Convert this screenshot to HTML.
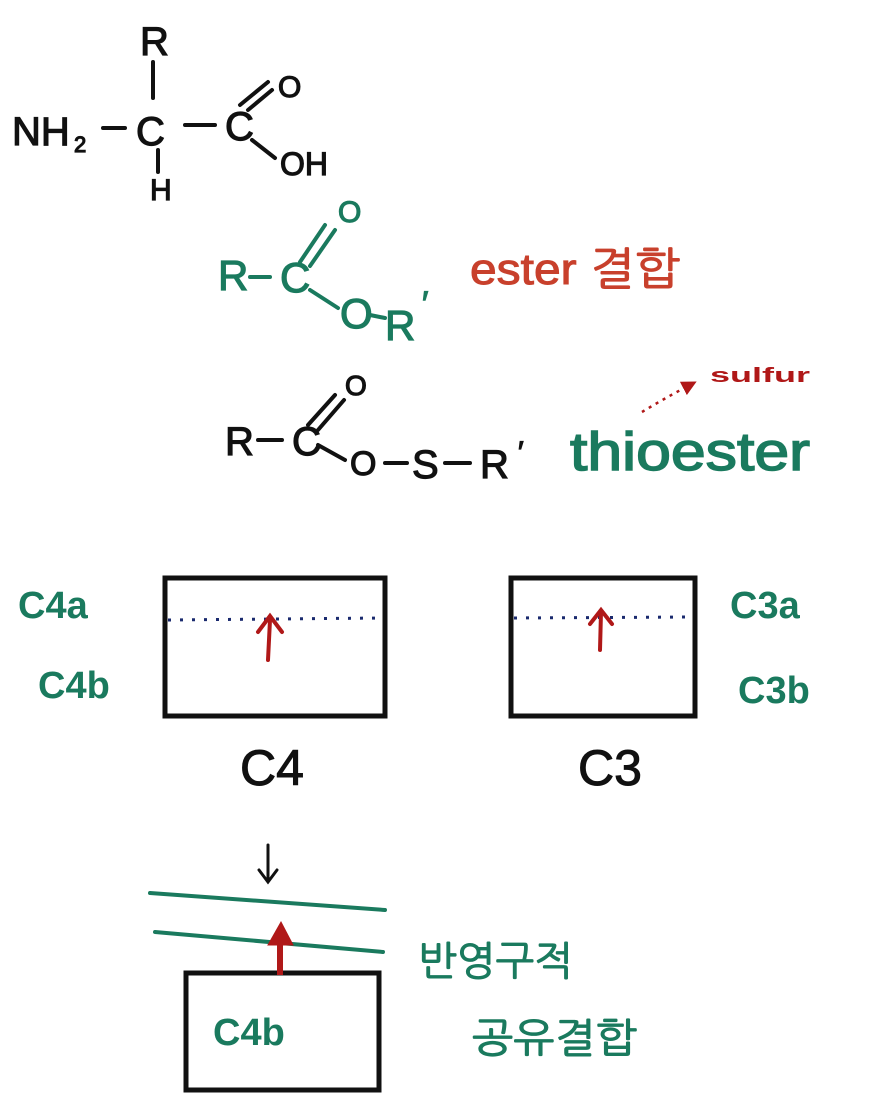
<!DOCTYPE html>
<html><head><meta charset="utf-8"><style>
html,body{margin:0;padding:0;background:#fff;}
svg{display:block}
text{font-family:"Liberation Sans","NanumGothic","Noto Sans CJK KR",sans-serif;}
</style></head><body>
<svg width="884" height="1103" viewBox="0 0 884 1103" xmlns="http://www.w3.org/2000/svg">
<defs>
<marker id="ar" markerWidth="6" markerHeight="6" refX="3" refY="3" orient="auto"><path d="M0,0 L6,3 L0,6 z" fill="#b01818"/></marker>
</defs>
<g fill="#111" stroke="#111" stroke-width="1.2" font-size="40">
<text x="140" y="55">R</text>
<text x="12" y="145">NH</text>
<text x="74" y="152" font-size="22">2</text>
<text x="136" y="145">C</text>
<text x="150" y="200" font-size="30">H</text>
<text x="225" y="140">C</text>
<text x="278" y="97" font-size="30">O</text>
<text x="280" y="175" font-size="32">OH</text>
</g>
<g stroke="#111" stroke-width="4" stroke-linecap="round" fill="none">
<line x1="153" y1="62" x2="153" y2="98"/>
<line x1="103" y1="128" x2="125" y2="128"/>
<line x1="185" y1="125" x2="215" y2="125"/>
<line x1="158" y1="150" x2="158" y2="172"/>
<line x1="240" y1="105" x2="268" y2="82"/>
<line x1="248" y1="110" x2="272" y2="90"/>
<line x1="252" y1="140" x2="275" y2="158"/>
</g>
<!-- ester -->
<g fill="#1a7a5e" stroke="#1a7a5e" stroke-width="1.2" font-size="42">
<text x="218" y="290">R</text>
<text x="280" y="292">C</text>
<text x="338" y="222" font-size="30">O</text>
<text x="340" y="328">O</text>
<text x="385" y="340">R</text>
<text x="422" y="315" font-size="34">′</text>
</g>
<g stroke="#1a7a5e" stroke-width="4" stroke-linecap="round">
<line x1="250" y1="277" x2="270" y2="277"/>
<line x1="300" y1="262" x2="325" y2="225"/>
<line x1="310" y1="266" x2="335" y2="230"/>
<line x1="310" y1="290" x2="338" y2="308"/>
<line x1="370" y1="315" x2="385" y2="318"/>
</g>
<text x="470" y="284" fill="#c8402c" stroke="#c8402c" stroke-width="1" font-size="44" textLength="210" lengthAdjust="spacingAndGlyphs">ester 결합</text>
<!-- thioester -->
<g fill="#111" stroke="#111" stroke-width="1.2" font-size="40">
<text x="225" y="455">R</text>
<text x="292" y="455">C</text>
<text x="345" y="395" font-size="28">O</text>
<text x="350" y="475" font-size="34">O</text>
<text x="412" y="478">S</text>
<text x="480" y="478">R</text>
<text x="518" y="462" font-size="30">′</text>
</g>
<g stroke="#111" stroke-width="4" stroke-linecap="round">
<line x1="258" y1="440" x2="282" y2="440"/>
<line x1="308" y1="425" x2="335" y2="395"/>
<line x1="318" y1="430" x2="344" y2="400"/>
<line x1="318" y1="445" x2="345" y2="460"/>
<line x1="385" y1="463" x2="407" y2="463"/>
<line x1="445" y1="463" x2="470" y2="463"/>
</g>
<text x="570" y="470" fill="#1a7a5e" stroke="#1a7a5e" stroke-width="1.5" font-size="54" textLength="240" lengthAdjust="spacingAndGlyphs">thioester</text>
<text x="710" y="382" fill="#b01818" font-size="20" font-weight="bold" textLength="100" lengthAdjust="spacingAndGlyphs">sulfur</text>
<path d="M642,412 Q665,398 690,385" stroke="#b01818" stroke-width="2.5" stroke-dasharray="3,5" fill="none" marker-end="url(#ar)"/>
<!-- boxes -->
<g stroke="#111" stroke-width="5" fill="none">
<rect x="165" y="578" width="220" height="138"/>
<rect x="511" y="578" width="184" height="138"/>
<rect x="186" y="973" width="193" height="117"/>
</g>
<line x1="168" y1="620" x2="383" y2="618" stroke="#1a2a6e" stroke-width="3" stroke-dasharray="3,9"/>
<line x1="514" y1="618" x2="693" y2="617" stroke="#1a2a6e" stroke-width="3" stroke-dasharray="3,9"/>
<g stroke="#b01818" stroke-width="4" stroke-linecap="round" fill="none">
<line x1="268" y1="660" x2="270" y2="620"/><path d="M258,632 L270,616 L282,632"/>
<line x1="600" y1="650" x2="601" y2="612"/><path d="M590,624 L601,610 L612,624"/>
</g>
<g fill="#1a7a5e" font-size="38" font-weight="bold">
<text x="18" y="618">C4a</text>
<text x="38" y="698">C4b</text>
<text x="730" y="618">C3a</text>
<text x="738" y="703">C3b</text>
<text x="213" y="1045">C4b</text>
</g>
<text x="240" y="785" fill="#111" stroke="#111" stroke-width="1" font-size="50">C4</text>
<text x="578" y="785" fill="#111" stroke="#111" stroke-width="1" font-size="50">C3</text>
<g stroke="#111" stroke-width="3" fill="none" stroke-linecap="round">
<line x1="268" y1="845" x2="268" y2="880"/><path d="M259,870 L268,882 L277,870"/>
</g>
<g stroke="#1a7a5e" stroke-width="4" stroke-linecap="round">
<line x1="150" y1="893" x2="385" y2="910"/>
<line x1="155" y1="932" x2="383" y2="952"/>
</g>
<g stroke="#b01818" stroke-width="6" fill="#b01818">
<line x1="280" y1="975" x2="280" y2="935"/>
<path d="M268,945 L281,922 L293,945 z" stroke-width="1"/>
</g>
<g fill="#1a7a5e" stroke="#1a7a5e" stroke-width="1" font-size="40">
<text x="418" y="975" textLength="155" lengthAdjust="spacingAndGlyphs">반영구적</text>
<text x="472" y="1052" textLength="165" lengthAdjust="spacingAndGlyphs">공유결합</text>
</g>
</svg>
</body></html>
